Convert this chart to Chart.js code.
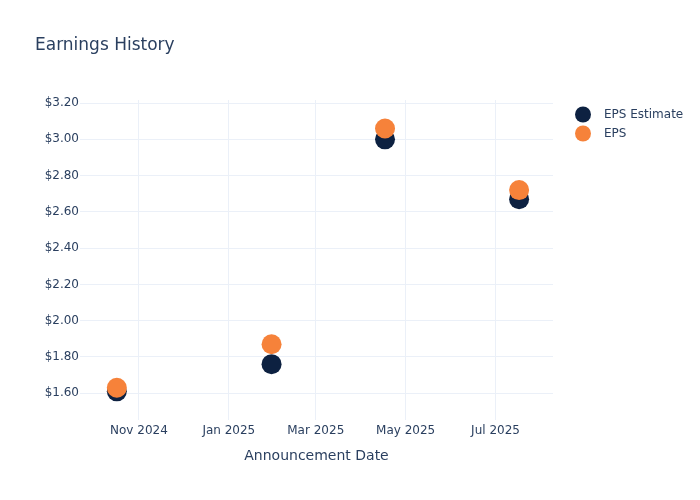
<!DOCTYPE html>
<html>
<head>
<meta charset="utf-8">
<script src="https://cdn.jsdelivr.net/npm/chart.js@4/dist/chart.umd.min.js"></script>
<style>
  body { margin: 0; background: #fff; }
  #wrap { width: 700px; height: 500px; }
</style>
</head>
<body>
<div id="wrap"><canvas id="earnChart" width="700" height="500"></canvas></div>
<script>
// chart values
const announceDates = ['2024-10-17', '2025-01-30', '2025-04-17', '2025-07-17'];
const epsEstimate = [1.61, 1.76, 3.00, 2.67];
const epsActual = [1.63, 1.87, 3.06, 2.72];

const xTickDates = ['2024-11-01', '2025-01-01', '2025-03-01', '2025-05-01', '2025-07-01'];
const xTickLabels = ['Nov 2024', 'Jan 2025', 'Mar 2025', 'May 2025', 'Jul 2025'];
const yTickValues = [1.6, 1.8, 2.0, 2.2, 2.4, 2.6, 2.8, 3.0, 3.2];

const toTime = s => Date.parse(s + 'T00:00:00Z');
const textColor = '#2a3f5f';
const gridColor = '#ebf0f8';

Chart.defaults.font.family = 'DejaVu Sans';
Chart.defaults.color = textColor;

// legend drawn on the right, like the plotly one
const sideLegend = {
    id: 'sideLegend',
    afterDraw(chart) {
        const ctx = chart.ctx;
        const items = [chart.data.datasets[0], chart.data.datasets[1]];
        ctx.save();
        ctx.font = '12px DejaVu Sans';
        ctx.textBaseline = 'middle';
        items.forEach((ds, i) => {
            const y = 114.5 + i * 19;
            ctx.beginPath();
            ctx.arc(583, y, 8, 0, Math.PI * 2);
            ctx.fillStyle = ds.backgroundColor;
            ctx.fill();
            ctx.fillStyle = textColor;
            ctx.fillText(ds.label, 604, y);
        });
        ctx.restore();
    }
};

const pts = vals => vals.map((v, i) => ({x: toTime(announceDates[i]), y: v}));

new Chart(document.getElementById('earnChart').getContext('2d'), {
    type: 'scatter',
    data: {
        datasets: [
            {
                label: 'EPS Estimate',
                data: pts(epsEstimate),
                backgroundColor: '#0d2141',
                borderColor: '#0d2141',
                pointRadius: 10,
                pointHoverRadius: 10,
                borderWidth: 0,
                order: 2
            },
            {
                label: 'EPS',
                data: pts(epsActual),
                backgroundColor: '#f6823a',
                borderColor: '#f6823a',
                pointRadius: 10,
                pointHoverRadius: 10,
                borderWidth: 0,
                order: 1
            }
        ]
    },
    options: {
        responsive: false,
        animation: false,
        layout: {padding: {left: 35, right: 147, top: 0, bottom: 0}},
        plugins: {
            legend: {display: false},
            tooltip: {enabled: false},
            title: {
                display: true,
                text: 'Earnings History',
                align: 'start',
                color: textColor,
                font: {size: 17, weight: 'normal'},
                padding: {top: 35, bottom: 44.6}
            }
        },
        scales: {
            x: {
                type: 'linear',
                min: toTime('2024-09-22'),
                max: toTime('2025-08-09'),
                afterBuildTicks: scale => {
                    scale.ticks = xTickDates.map(d => ({value: toTime(d)}));
                },
                afterFit: scale => { scale.height = 80; },
                ticks: {
                    padding: 4,
                    color: textColor,
                    font: {size: 12},
                    maxRotation: 0,
                    autoSkip: false,
                    callback: (value, index) => xTickLabels[index]
                },
                grid: {color: gridColor, drawTicks: false},
                border: {display: false},
                title: {
                    display: true,
                    text: 'Announcement Date',
                    color: textColor,
                    font: {size: 14},
                    padding: {top: 0, bottom: 35}
                }
            },
            y: {
                min: 1.452,
                max: 3.217,
                afterBuildTicks: scale => {
                    scale.ticks = yTickValues.map(v => ({value: v}));
                },
                afterFit: scale => { scale.width = 45; },
                ticks: {
                    padding: 1,
                    color: textColor,
                    font: {size: 12},
                    callback: v => '$' + v.toFixed(2)
                },
                grid: {color: gridColor, drawTicks: false},
                border: {display: false}
            }
        }
    },
    plugins: [sideLegend]
});
</script>
</body>
</html>
